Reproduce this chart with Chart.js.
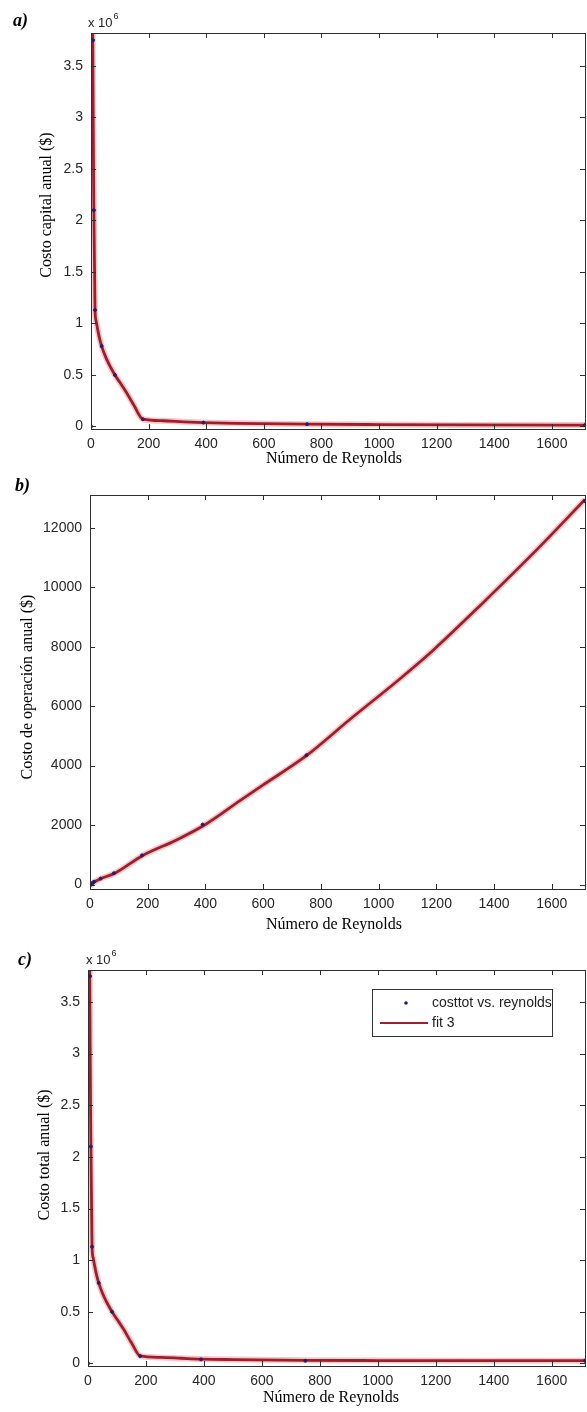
<!DOCTYPE html>
<html>
<head>
<meta charset="utf-8">
<script src="https://cdn.jsdelivr.net/npm/chart.js@4.4.1/dist/chart.umd.min.js"></script>
<style>
  body { margin: 0; background: #fff; overflow: hidden; }
  #wrap { position: relative; width: 587px; height: 1412px; overflow: hidden; background: #fff; }
  canvas { position: absolute; left: 0; }
</style>
</head>
<body>
<div id="wrap">
  <canvas id="cap_chart" width="590" height="472" style="top:0px"></canvas>
  <canvas id="op_chart" width="590" height="468" style="top:472px"></canvas>
  <canvas id="tot_chart" width="590" height="472" style="top:940px"></canvas>
</div>
<script>
// tick values
const xTicks = [0, 200, 400, 600, 800, 1000, 1200, 1400, 1600];
const capTicks = [0, 500000, 1000000, 1500000, 2000000, 2500000, 3000000, 3500000];
const opTicks = [0, 2000, 4000, 6000, 8000, 10000, 12000];

// measured points (markers)
const reynolds = [0, 7, 10, 14, 37, 83, 180, 390, 750, 1715];
const costcap = [0, 3750000, 2100000, 1130000, 780000, 500000, 70000, 37000, 22000, 13000];
const costop = [0, 40, 60, 95, 200, 380, 980, 2020, 4350, 12900];
const costtot = [0, 3750000, 2100000, 1130000, 780000, 500000, 71000, 39000, 26000, 26000];

// fitted curves ("fit 3")
const fitReyCap = [5, 7, 8, 9, 10, 11, 12, 13, 14, 18, 24, 30, 37, 50, 65, 83, 100, 123, 150, 180, 250, 320, 390, 500, 750, 1000, 1300, 1715];
const fitCap = [4300000, 3300000, 2800000, 2400000, 2100000, 1850000, 1600000, 1350000, 1130000, 1020000, 930000, 850000, 780000, 680000, 590000, 500000, 428000, 330000, 200000, 70000, 55000, 45000, 37000, 30000, 22000, 18000, 15000, 13000];
const fitReyOp = [0, 17, 38, 86, 183, 300, 400, 521, 600, 752, 900, 1069, 1190, 1362, 1555, 1715];
const fitOp = [-50, 95, 200, 380, 980, 1500, 2020, 2830, 3350, 4350, 5550, 6880, 7890, 9480, 11330, 12950];
const fitReyTot = [5, 7, 8, 9, 10, 11, 12, 13, 14, 18, 24, 30, 37, 50, 65, 83, 100, 123, 150, 180, 250, 320, 390, 500, 750, 1000, 1300, 1715];
const fitTot = [4300000, 3300000, 2800000, 2400000, 2100000, 1850000, 1600000, 1350000, 1130000, 1020000, 930000, 850000, 780000, 680000, 590000, 500000, 428000, 330000, 200000, 72000, 58000, 50000, 42000, 37000, 30000, 28000, 27000, 27000];

const toXY = (xs, ys) => xs.map((v, i) => ({ x: v, y: ys[i] }));

const serif = '"Liberation Serif", "Times New Roman", serif';
const sans = '"Liberation Sans", Arial, sans-serif';
const lineRed = '#9e1f2b';
const dotBlue = '#2a1b6e';

// frame with inside ticks, panel letters, axis titles, legend
const panelText = {
  id: 'panelText',
  afterDraw(chart, args, o) {
    const { ctx, chartArea: a, scales: { x, y } } = chart;
    ctx.save();
    ctx.strokeStyle = '#2e2e2e';
    ctx.lineWidth = 1;
    ctx.strokeRect(a.left + 0.5, a.top + 0.5, a.right - a.left, a.bottom - a.top);
    ctx.beginPath();
    o.xTicks.forEach(v => {
      const px = Math.round(x.getPixelForValue(v)) + 0.5;
      ctx.moveTo(px, a.bottom); ctx.lineTo(px, a.bottom - 5);
      ctx.moveTo(px, a.top); ctx.lineTo(px, a.top + 5);
    });
    o.yTicks.forEach(v => {
      const py = Math.round(y.getPixelForValue(v)) + 0.5;
      ctx.moveTo(a.left, py); ctx.lineTo(a.left + 5, py);
      ctx.moveTo(a.right, py); ctx.lineTo(a.right - 5, py);
    });
    ctx.stroke();

    ctx.fillStyle = '#000';
    ctx.font = 'bold italic 18px ' + serif;
    ctx.textAlign = 'left';
    ctx.textBaseline = 'alphabetic';
    ctx.fillText(o.letter, o.letterX, o.letterY);

    if (o.expo) {
      ctx.fillStyle = '#222';
      ctx.font = '13px ' + sans;
      ctx.fillText('x 10', o.expoX, o.expoY);
      const w = ctx.measureText('x 10').width;
      ctx.font = '9px ' + sans;
      ctx.fillText('6', o.expoX + w + 1, o.expoY - 8);
    }

    ctx.fillStyle = '#000';
    ctx.font = '16px ' + serif;
    ctx.textAlign = 'center';
    ctx.textBaseline = 'middle';
    ctx.fillText('Número de Reynolds', o.xTitleX, o.xTitleY);
    ctx.save();
    ctx.translate(o.yTitleX, o.yTitleY);
    ctx.rotate(-Math.PI / 2);
    ctx.fillText(o.yTitle, 0, 0);
    ctx.restore();

    if (o.legend) {
      const L = o.legend;
      ctx.fillStyle = '#fff';
      ctx.fillRect(L.x, L.y, L.w, L.h);
      ctx.strokeStyle = '#333';
      ctx.lineWidth = 1;
      ctx.strokeRect(L.x + 0.5, L.y + 0.5, L.w, L.h);
      const r1 = L.y + 14, r2 = L.y + 34;
      ctx.fillStyle = dotBlue;
      ctx.beginPath(); ctx.arc(L.x + 34, r1, 1.8, 0, Math.PI * 2); ctx.fill();
      ctx.strokeStyle = lineRed; ctx.lineWidth = 2;
      ctx.beginPath(); ctx.moveTo(L.x + 8, r2); ctx.lineTo(L.x + 56, r2); ctx.stroke();
      ctx.fillStyle = '#222';
      ctx.font = '14px ' + sans;
      ctx.textAlign = 'left';
      ctx.fillText(L.labels[0], L.x + 60, r1);
      ctx.fillText(L.labels[1], L.x + 60, r2);
    }
    ctx.restore();
  }
};

function makeChart(el, pts, fit, cfg) {
  return new Chart(el, {
    type: 'scatter',
    data: {
      datasets: [{
        label: cfg.legend ? cfg.legend.labels[0] : 'data',
        data: pts,
        backgroundColor: dotBlue,
        borderColor: dotBlue,
        pointRadius: 1.5,
        showLine: false
      }, {
        label: 'fit 3',
        data: fit,
        showLine: true,
        borderColor: lineRed,
        borderWidth: 2.8,
        pointRadius: 0,
        cubicInterpolationMode: 'monotone'
      }, {
        label: 'halo',
        data: fit,
        showLine: true,
        borderColor: 'rgba(225, 70, 80, 0.3)',
        borderWidth: 6,
        pointRadius: 0,
        cubicInterpolationMode: 'monotone'
      }]
    },
    options: {
      responsive: false,
      animation: false,
      events: [],
      layout: { padding: { top: cfg.top, right: 1, bottom: 0, left: 0 } },
      plugins: {
        legend: { display: false },
        tooltip: { enabled: false },
        panelText: cfg
      },
      scales: {
        x: {
          type: 'linear',
          min: 0,
          max: 1715,
          afterFit: s => { s.height = cfg.xH; },
          afterBuildTicks: s => { s.ticks = xTicks.map(v => ({ value: v })); },
          grid: { display: false, drawTicks: false },
          border: { display: false },
          ticks: {
            padding: 7, color: '#262626', font: { family: sans, size: 14 }, maxRotation: 0, autoSkip: false,
            callback: v => String(v)
          }
        },
        y: {
          type: 'linear',
          min: cfg.yMin,
          max: cfg.yMax,
          afterFit: s => { s.width = cfg.left; },
          afterBuildTicks: s => { s.ticks = cfg.yTicks.map(v => ({ value: v })); },
          grid: { display: false, drawTicks: false },
          border: { display: false },
          ticks: {
            padding: 8, color: '#262626', font: { family: sans, size: 14 }, autoSkip: false,
            callback: cfg.fmt
          }
        }
      }
    },
    plugins: [panelText]
  });
}

makeChart(document.getElementById('cap_chart'), toXY(reynolds, costcap), toXY(fitReyCap, fitCap), {
  top: 33, left: 91, xH: 43, yMin: -25000, yMax: 3820000, yTicks: capTicks, xTicks,
  fmt: v => String(v / 1000000),
  letter: 'a)', letterX: 13, letterY: 26, expo: true, expoX: 88, expoY: 27,
  xTitleX: 334, xTitleY: 459, yTitle: 'Costo capital anual ($)', yTitleX: 47, yTitleY: 205
});

makeChart(document.getElementById('op_chart'), toXY(reynolds, costop), toXY(fitReyOp, fitOp), {
  top: 23, left: 90, xH: 51, yMin: -150, yMax: 13100, yTicks: opTicks, xTicks,
  fmt: v => String(v),
  letter: 'b)', letterX: 15, letterY: 19, expo: false,
  xTitleX: 334, xTitleY: 453, yTitle: 'Costo de operación anual ($)', yTitleX: 28, yTitleY: 215
});

makeChart(document.getElementById('tot_chart'), toXY(reynolds, costtot), toXY(fitReyTot, fitTot), {
  top: 30, left: 88, xH: 46, yMin: -25000, yMax: 3810000, yTicks: capTicks, xTicks,
  fmt: v => String(v / 1000000),
  letter: 'c)', letterX: 18, letterY: 25, expo: true, expoX: 86, expoY: 24,
  xTitleX: 331, xTitleY: 458, yTitle: 'Costo total anual ($)', yTitleX: 45, yTitleY: 215,
  legend: { x: 372, y: 49, w: 180, h: 47, labels: ['costtot vs. reynolds', 'fit 3'] }
});
</script>
</body>
</html>
